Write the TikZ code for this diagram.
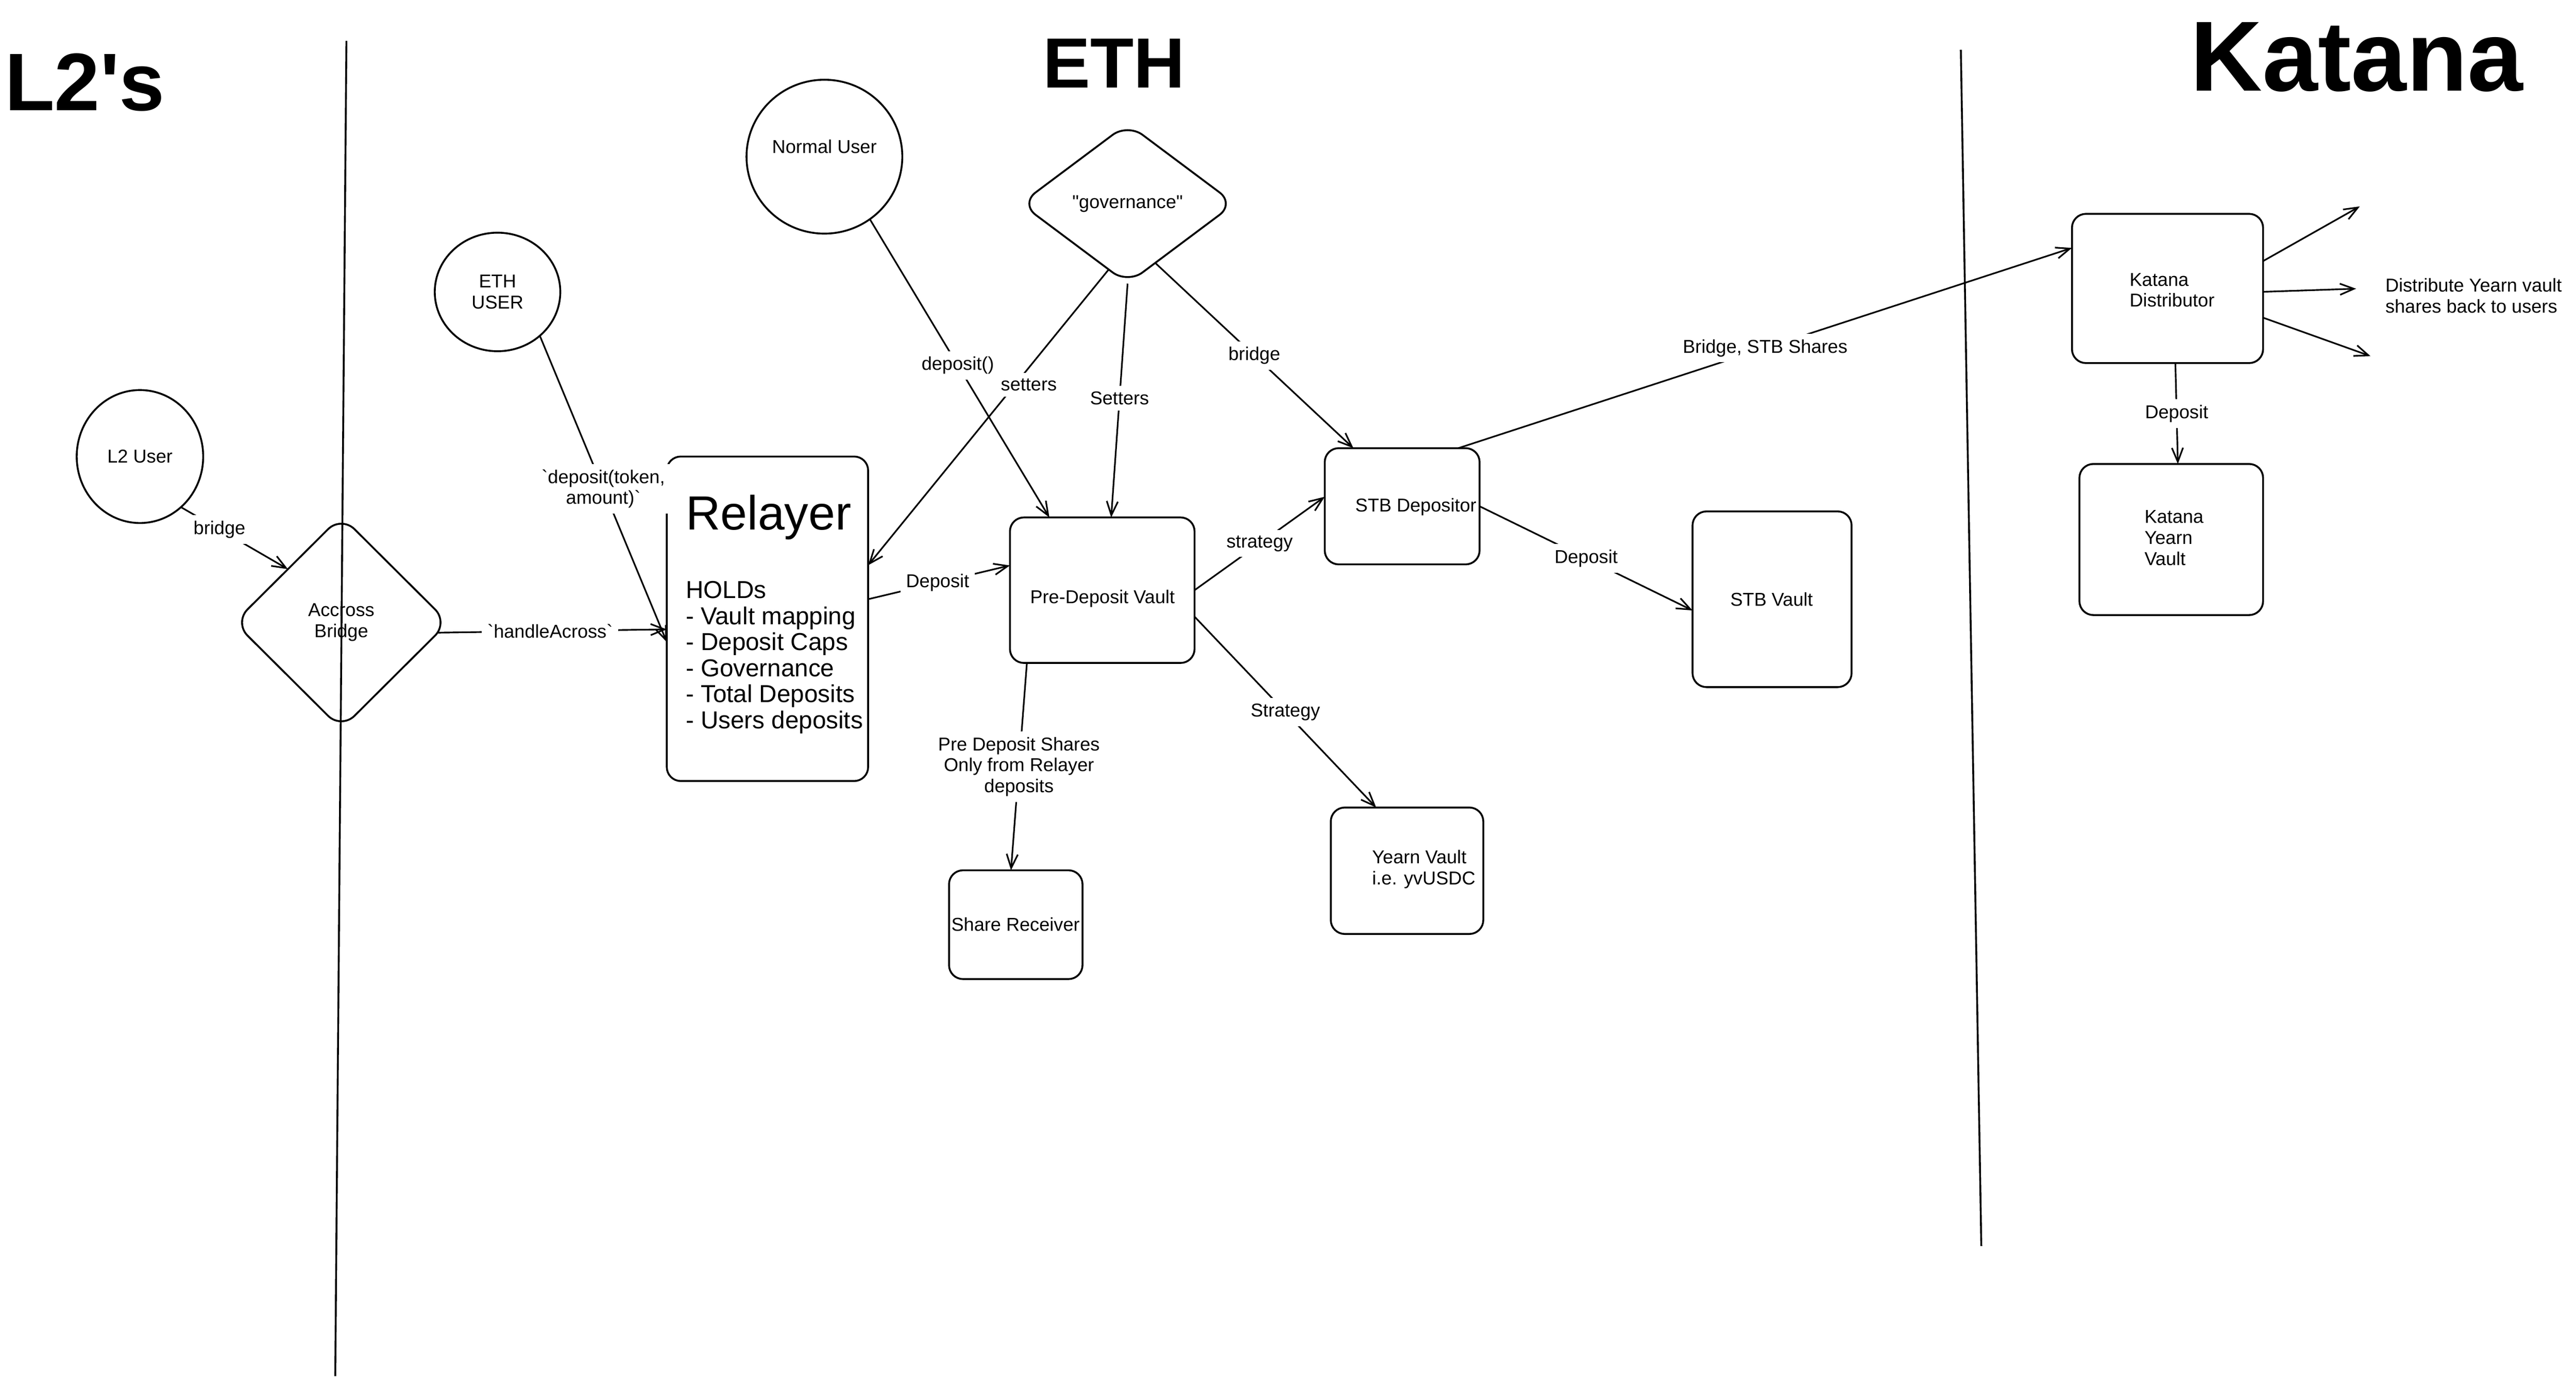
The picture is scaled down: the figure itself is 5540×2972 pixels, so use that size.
\documentclass[tikz,border=0pt]{standalone}
\usepackage{fontspec}
\setmainfont{Liberation Sans}[Ligatures=TeXOff]
\usetikzlibrary{arrows.meta,shapes.geometric}
\begin{document}
\begin{tikzpicture}[x=0.1mm,y=-0.1mm,
  every node/.style={inner sep=0pt, outer sep=0pt},
  smalltxt/.style={font=\fontsize{11.4}{12.8}\selectfont},
  listtxt/.style={font=\fontsize{15}{15.9}\selectfont},
  titletxt/.style={font=\bfseries\fontsize{#1}{#1}\selectfont},
  box/.style={draw, line width=0.4mm, rounded corners=3mm},
  userc/.style={draw, ellipse, line width=0.4mm, smalltxt, align=center},
  dia/.style={draw, diamond, line width=0.4mm, rounded corners=4mm, smalltxt, align=center},
  divider/.style={line width=0.4mm},
  arr/.style={draw, line width=0.35mm, -{Straight Barb[length=3mm,width=2.4mm]}},
  lbl/.style={fill=white, inner sep=1.2mm, smalltxt, align=center},
  body/.style={smalltxt, align=left},
]
\fill[white] (0,0) rectangle (5540,2972);
\useasboundingbox (0,0) rectangle (5540,2972);

% titles
\node[titletxt=50, anchor=base west] (l2title) at (10,238) {L2's};
\node[titletxt=43.5, anchor=base west] (ethtitle) at (2243,189) {ETH};
\node[titletxt=61, anchor=base west] (katanatitle) at (4711,196) {Katana};

% dividers
\coordinate (d1a) at (745,88);
\coordinate (d1b) at (721,2960);
\coordinate (d2a) at (4217,107);
\coordinate (d2b) at (4261,2680);
\draw[divider] (d1a) -- (d1b);
\draw[divider] (d2a) -- (d2b);

% users
\node[userc, minimum width=27.2mm, minimum height=28.6mm] (l2user) at (301,982) {L2 User};
\node[userc, minimum width=27mm, minimum height=25.5mm] (ethuser) at (1070,628) {ETH\\USER};
\node[userc, minimum width=33.5mm, minimum height=33.1mm] (normaluser) at (1773,337) {};
\node[smalltxt] (normalusertxt) at (1773,315) {Normal User};

% diamonds
\node[dia, minimum width=46mm, minimum height=45.8mm] (across) at (734,1339) {Accross\\Bridge};
\node[dia, minimum width=46mm, minimum height=34.4mm] (governance) at (2425,438) {"governance"};

% boxes
\node[box, minimum width=43.3mm, minimum height=69.8mm] (relayer) at (1650.5,1331) {};
\node[anchor=base west, font=\fontsize{29.4}{30}\selectfont] (relayertitle) at (1475,1140) {Relayer};
\foreach \t [count=\i] in {HOLDs,- Vault mapping,- Deposit Caps,- Governance,- Total Deposits,- Users deposits}
  \node[listtxt, anchor=base west] (hold\i) at (1475,{1287+56*(\i-1)}) {\t};

\node[box, minimum width=39.7mm, minimum height=31.3mm] (predeposit) at (2370.5,1269.5) {};
\node[smalltxt] (predeposittxt) at (2371,1288) {Pre-Deposit Vault};

\node[box, minimum width=33.3mm, minimum height=25mm] (stbdep) at (3015.5,1089) {};
\node[smalltxt] (stbdeptxt) at (3045,1090) {STB Depositor};

\node[box, minimum width=34.2mm, minimum height=37.8mm] (stbvault) at (3811,1289) {};
\node[smalltxt] (stbvaulttxt) at (3810,1289) {STB Vault};

\node[box, minimum width=32.8mm, minimum height=27.2mm] (yearn) at (3026,1873) {};
\node[body, anchor=west] (yearntxt) at (2951,1870) {Yearn Vault\\i.e. yvUSDC};

\node[box, minimum width=28.7mm, minimum height=23.4mm] (sharerecv) at (2184.5,1989) {};
\node[smalltxt] (sharerecvtxt) at (2184,1988) {Share Receiver};

\node[box, minimum width=41.1mm, minimum height=32.1mm] (katdist) at (4661.5,620.5) {};
\node[body, anchor=west] (katdisttxt) at (4580,624) {Katana\\Distributor};

\node[box, minimum width=39.5mm, minimum height=32.5mm] (katyearn) at (4669.5,1160.5) {};
\node[body, anchor=west] (katyearntxt) at (4612,1157) {Katana\\Yearn\\Vault};

\node[body, anchor=west] (distributetxt) at (5130,636) {Distribute Yearn vault\\shares back to users};

% connectors
\draw[arr] (l2user.-51) -- node[lbl, pos=0.36] {bridge} (across.135);
\draw[arr] (across.-6) -- node[lbl, pos=0.49] {`handleAcross`} (relayer.186);
\draw[arr] (ethuser.-46) -- node[lbl] {`deposit(token,\\amount)`} (relayer.193.5);
\draw[arr] (governance.254) -- node[lbl, pos=0.39, xshift=3mm] {setters} (relayer.28.5);
\draw[arr] (normaluser.-54.5) -- node[lbl, pos=0.49] {deposit()} (predeposit.126.5);
\draw[arr] (governance.south) -- node[lbl, pos=0.49] {Setters} (predeposit.83.5);
\draw[arr] (governance.-65) -- node[lbl] {bridge} (stbdep.130.6);
\draw[arr] (relayer.11.3) -- node[lbl, pos=0.49] {Deposit} (predeposit.165.9);
\draw[arr] (predeposit.east) -- node[lbl] {strategy} (stbdep.173.1);
\draw[arr] (predeposit.-16) -- node[lbl] {Strategy} (yearn.116.2);
\draw[arr] (predeposit.224.1) -- node[lbl] {Pre Deposit Shares\\Only from Relayer\\deposits} (sharerecv.95.6);
\draw[arr] (stbdep.east) -- node[lbl] {Deposit} (stbvault.188);
\draw[arr] (stbdep.46.3) -- node[lbl] {Bridge, STB Shares} (katdist.157.2);
\coordinate (da) at (5075,444);
\coordinate (db) at (5067,621);
\coordinate (dc) at (5098,766);
\draw[arr] (katdist.16.7) -- (da);
\draw[arr] (katdist.-2.6) -- (db);
\draw[arr] (katdist.-17.7) -- (dc);
\draw[arr] (katdist.-84.8) -- node[lbl] {Deposit} (katyearn.85.3);
\end{tikzpicture}
\end{document}
